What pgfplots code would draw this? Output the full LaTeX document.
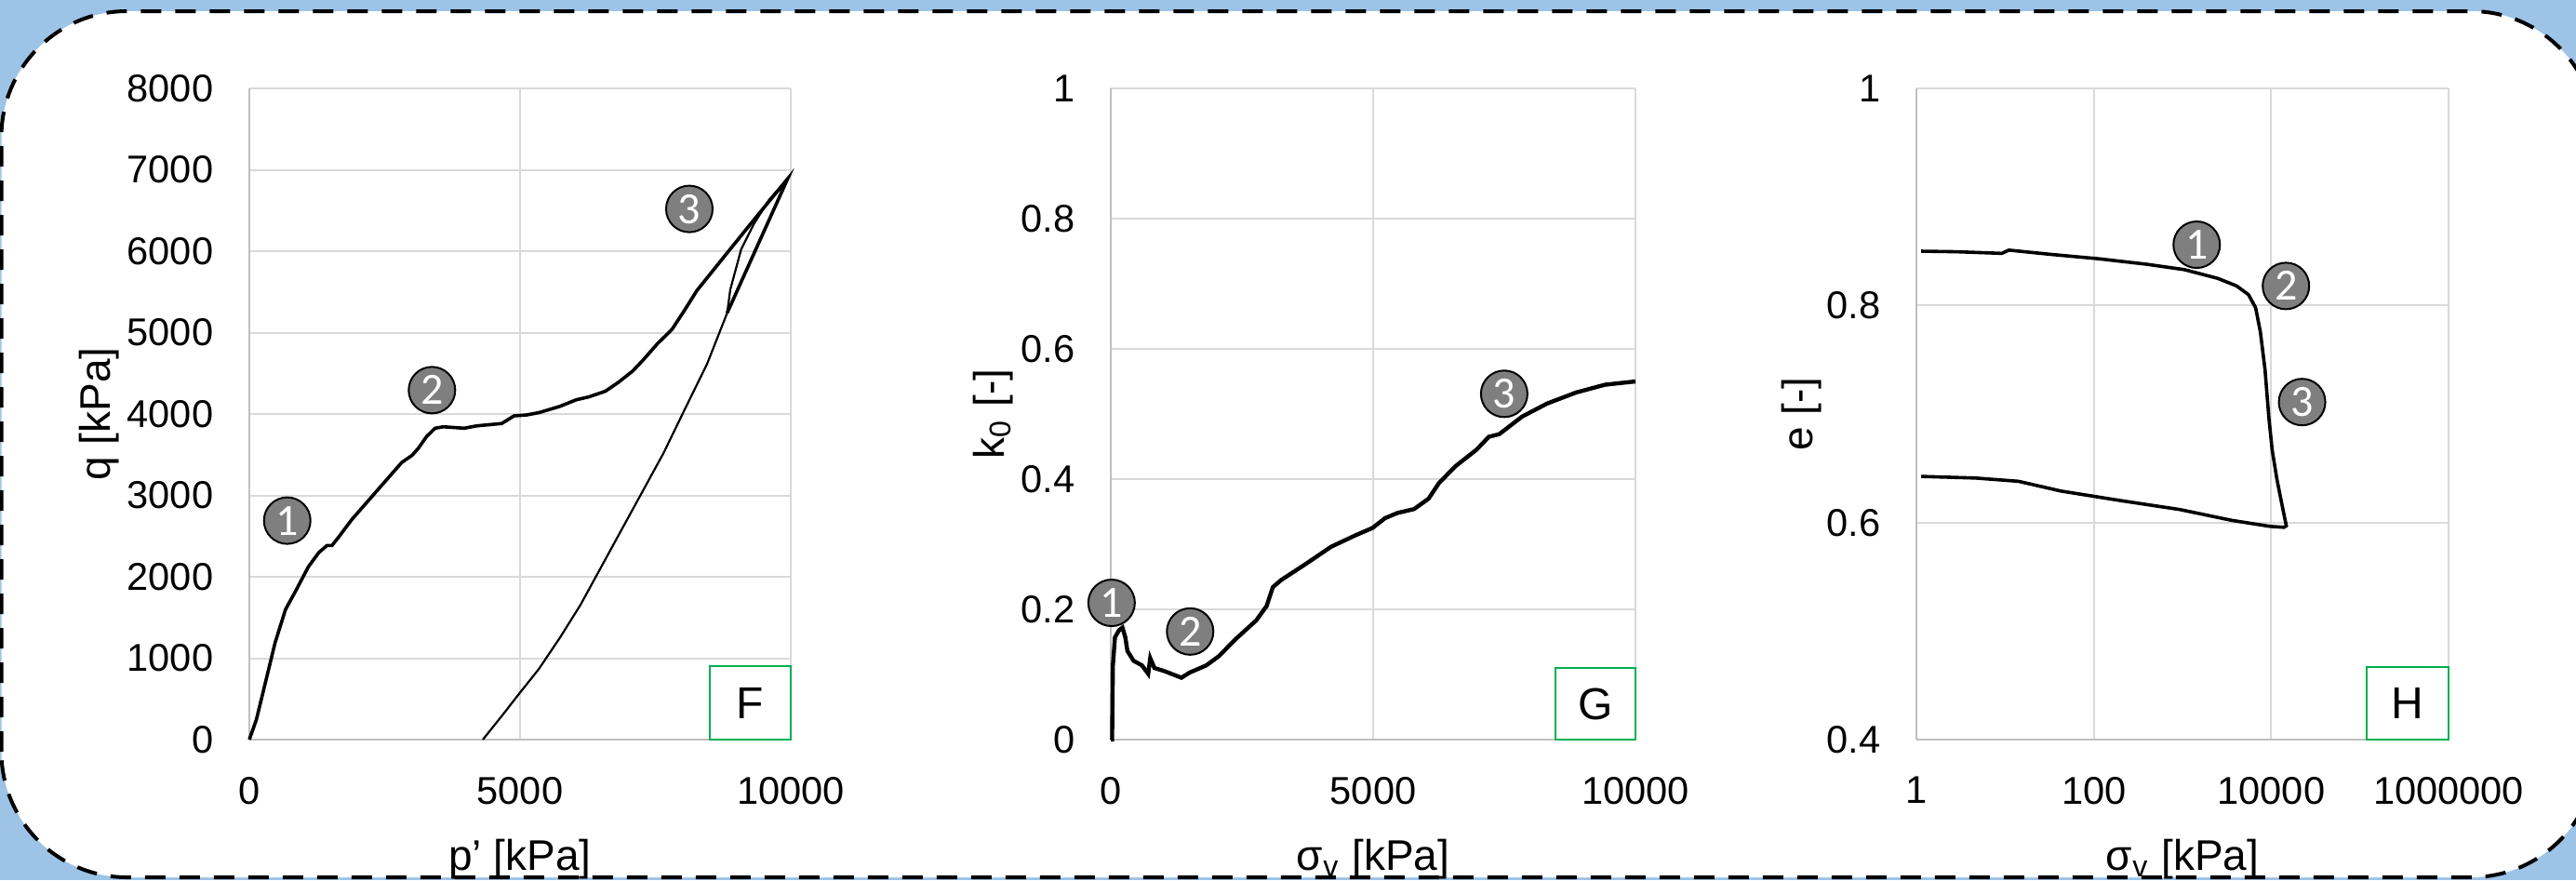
\documentclass[border=0pt]{standalone}
\usepackage{pgfplots}
\pgfplotsset{compat=1.18}
\usepackage{fontspec}
\setmainfont{Liberation Sans}
\newfontfamily\carlito{Carlito}
\definecolor{bgblue}{HTML}{9DC3E6}
\definecolor{gridgray}{HTML}{D9D9D9}
\definecolor{axgray}{HTML}{BFBFBF}
\definecolor{boxgreen}{HTML}{00B050}
\definecolor{circgray}{HTML}{7F7F7F}
\pgfplotsset{
 excel/.style={
  scale only axis, height=175pt,
  axis lines=left, axis line style={draw=axgray, line width=0.5pt, -},
  grid=major, grid style={draw=gridgray, line width=0.5pt},
  major tick length=0pt, minor tick num=0,
  scaled ticks=false,
  tick label style={font=\fontsize{10.4}{12}\selectfont},
  yticklabel style={inner sep=0pt, anchor=east, xshift=-9.5pt},
  xticklabel style={inner sep=0pt, anchor=north, yshift=-9.8pt},
  label style={font=\fontsize{11.5}{13}\selectfont},
  xlabel style={at={(axis description cs:0.5,-0.183)}, anchor=center},
  clip=false,
  anchor=south west,
 },
}
\tikzset{
 lbl/.style={circle, fill=circgray, draw=black, line width=0.5pt, minimum size=12.5pt, inner sep=0pt, text=white, font=\carlito\fontsize{12}{12}\selectfont},
 gbox/.style={draw=boxgreen, line width=0.55pt},
 letter/.style={font=\fontsize{12}{12}\selectfont, inner sep=0pt},
}
\begin{document}
\begin{tikzpicture}
\useasboundingbox (0,0) rectangle (692.25pt,236.5pt);
\fill[bgblue] (0,0) rectangle (692.25pt,236.5pt);
\begin{scope}
\clip (0,0) rectangle (692.25pt,236.5pt);
\draw[line width=1pt, dash pattern=on 5.5pt off 3.75pt, fill=white, rounded corners=33.75pt] (0.375pt,0.75pt) rectangle (697.75pt,233.5pt);
\end{scope}

% ---------- F ----------
\begin{axis}[excel, at={(67pt,37.75pt)}, width=145.5pt,
  xmin=0, xmax=10000, ymin=0, ymax=8000,
  xtick={0,5000,10000}, xticklabels={0,5000,10000},
  ytick={0,1000,2000,3000,4000,5000,6000,7000,8000},
  yticklabels={0,1000,2000,3000,4000,5000,6000,7000,8000},
  xlabel={p’ [kPa]}, ylabel={q [kPa]},
  ylabel style={at={(axis description cs:-0.277,0.5)}, anchor=center}]
\addplot[black, line width=0.9pt] coordinates {
(0,0) (130,245) (284,665) (476,1190) (668,1598) (860,1831) (1090,2122)
(1282,2297) (1435,2385) (1527,2385) (1665,2501) (1896,2706) (2279,2997)
(2663,3289) (2816,3405) (3008,3493) (3123,3580) (3277,3726) (3431,3825)
(3584,3843) (3968,3825) (4198,3854) (4659,3883) (4735,3913) (4889,3977)
(5119,3988) (5349,4017) (5733,4093) (6040,4175) (6270,4210) (6577,4280)
(6808,4385) (7076,4525) (7268,4659) (7537,4863) (7805,5038) (8035,5271)
(8266,5516) (8803,5960) (9313,6380) (9943,6890) (8826,5242)
};
\addplot[black, line width=0.55pt] coordinates {
(8826,5242) (8883,5528) (9084,6023) (9313,6328) (9600,6632) (9943,6890)
};
\addplot[black, line width=0.55pt] coordinates {
(8826,5242) (8454,4614) (8035,4047) (7652,3522) (7268,3055) (6884,2589)
(6500,2122) (6117,1656) (5733,1248) (5349,869) (4965,548) (4658,286) (4313,0)
};
\draw[gbox] (axis cs:8505,0) rectangle (axis cs:10000,903);
\node[letter] at (axis cs:9252,451) {F};
\node[lbl] at (axis cs:700,2690) {1};
\node[lbl] at (axis cs:3373,4293) {2};
\node[lbl] at (axis cs:8127,6519) {3};
\end{axis}

% ---------- G ----------
\begin{axis}[excel, at={(298.5pt,37.75pt)}, width=141pt,
  xmin=0, xmax=10000, ymin=0, ymax=1,
  xtick={0,5000,10000}, xticklabels={0,5000,10000},
  ytick={0,0.2,0.4,0.6,0.8,1},
  yticklabels={0,0.2,0.4,0.6,0.8,1},
  xlabel={σ\textsubscript{v} [kPa]}, ylabel={k\textsubscript{0} [-]},
  ylabel style={at={(axis description cs:-0.225,0.5)}, anchor=center}]
\addplot[black, line width=1.1pt] coordinates {
(0,0) (25,0) (40,0.114) (79,0.157) (158,0.168) (222,0.172) (277,0.157)
(317,0.136) (435,0.121) (594,0.114) (713,0.101) (752,0.125) (831,0.110)
(1029,0.105) (1346,0.095) (1504,0.103) (1821,0.114) (2058,0.128)
(2375,0.154) (2771,0.183) (2969,0.205) (3088,0.234) (3246,0.245)
(3721,0.270) (4196,0.296) (4671,0.314) (4988,0.325) (5226,0.340)
(5463,0.348) (5780,0.354) (6057,0.370) (6255,0.394) (6572,0.420)
(6968,0.445) (7205,0.465) (7403,0.469) (7839,0.496) (8314,0.516)
(8868,0.533) (9422,0.545) (10000,0.550)
};
\draw[gbox] (axis cs:8472,0) rectangle (axis cs:10000,0.110);
\node[letter] at (axis cs:9236,0.055) {G};
\node[lbl] at (axis cs:15,0.21) {1};
\node[lbl] at (axis cs:1512,0.166) {2};
\node[lbl] at (axis cs:7498,0.531) {3};
\end{axis}

% ---------- H ----------
\begin{axis}[excel, at={(515pt,37.75pt)}, width=143pt,
  xmode=log, xmin=1, xmax=1000000, ymin=0.4, ymax=1,
  xtick={1,100,10000,1000000}, xticklabels={1,100,10000,1000000},
  minor xtick={},
  ytick={0.4,0.6,0.8,1}, yticklabels={0.4,0.6,0.8,1},
  xlabel={σ\textsubscript{v} [kPa]}, ylabel={e [-]},
  ylabel style={at={(axis description cs:-0.215,0.5)}, anchor=center}]
\addplot[black, line width=0.9pt] coordinates {
(1.13,0.850) (2.85,0.8495) (9.18,0.848) (11.0,0.851) (33.4,0.847)
(114.5,0.843) (392,0.838) (1050,0.833) (2489,0.825) (4074,0.818)
(5540,0.810) (6668,0.798) (7540,0.776) (8517,0.741) (9400,0.697)
(10250,0.667) (11590,0.640) (13110,0.618) (14460,0.601) (14820,0.597)
(13930,0.5956) (9640,0.5965) (3597,0.602) (929,0.612) (187,0.6206)
(42.7,0.629) (14.1,0.638) (4.66,0.641) (1.13,0.6425)
};
\draw[gbox] (axis cs:119400,0.4) rectangle (axis cs:1000000,0.467);
\node[letter] at (axis cs:345600,0.4335) {H};
\node[lbl] at (axis cs:1445,0.856) {1};
\node[lbl] at (axis cs:14660,0.818) {2};
\node[lbl] at (axis cs:22300,0.711) {3};
\end{axis}
\end{tikzpicture}
\end{document}
